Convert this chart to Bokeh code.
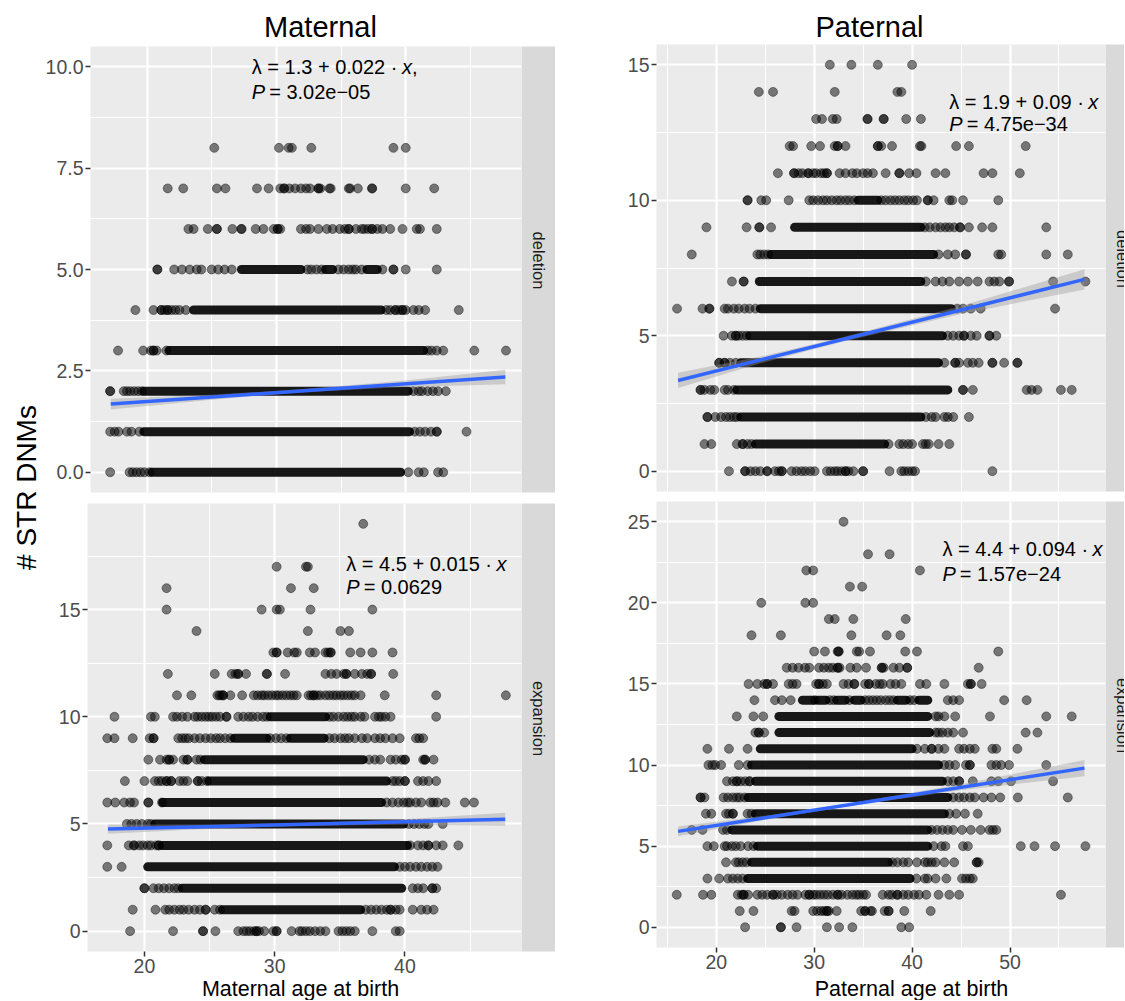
import math
from bokeh.plotting import figure
from bokeh.layouts import row, column
from bokeh.models import Range1d, FixedTicker
from bokeh.core.properties import value
from bokeh.embed import file_html
from bokeh.resources import INLINE

FONT = "Liberation Sans"

# ---------------- data ----------------
# Maternal / deletion : {count: [ages of individual points]}, dense runs {count: [(from, to)]}
mat_del_rows = {
    8: [25.2, 30.2, 30.95, 31.2, 32.7, 39.05, 40.0],
    7: [21.6, 22.8, 25.4, 26.06, 28.5, 29.4, 30.3, 30.6, 30.6, 31.0, 31.45, 31.9, 32.3, 32.6, 33.25, 33.25,
        33.4, 34.1, 34.2, 35.6, 35.7, 36.3, 37.4, 37.4, 40.0, 42.2],
    6: [23.2, 23.6, 24.7, 25.4, 25.4, 26.6, 27.3, 27.3, 28.4, 29.0, 29.8, 30.1, 30.1, 30.3, 31.9, 32.3, 32.6,
        33.25, 33.9, 34.35, 34.9, 35.3, 35.6, 35.6, 36.15, 36.6, 36.8, 37.1, 37.4, 37.4, 37.8, 38.2, 38.8,
        39.75, 40.85, 41.1, 42.4],
    5: [20.8, 20.8, 22.1, 22.7, 23.3, 23.85, 24.2, 25.0, 25.5, 26.0, 26.55, 32.4, 32.7, 33.1, 33.5, 34.8,
        35.2, 35.6, 35.9, 36.15, 36.6, 38.2, 39.05, 39.05, 40.0, 42.4],
    4: [19.1, 20.5, 21.1, 21.1, 21.35, 21.6, 21.6, 21.9, 22.2, 22.5, 23.0, 38.5, 38.8, 39.2, 39.2, 39.5,
        39.75, 39.75, 40.0, 40.6, 41.0, 41.5, 44.1],
    3: [17.76, 19.7, 20.3, 20.5, 20.5, 20.75, 21.5, 41.7, 42.0, 42.4, 42.9, 45.3, 47.75],
    2: [17.15, 17.15, 18.2, 18.45, 18.7, 19.0, 19.3, 19.6, 40.6, 41.0, 41.25, 41.7, 42.1, 42.5, 43.1],
    1: [17.15, 17.5, 17.8, 18.45, 18.8, 19.4, 40.7, 41.1, 41.5, 41.95, 42.4, 42.4, 44.7],
    0: [17.15, 18.65, 18.9, 19.2, 19.5, 19.8, 20.2, 40.2, 41.0, 41.4, 42.5, 42.9],
}
mat_del_dense = {
    5: [(27.3, 31.9), (33.8, 34.35), (37.0, 37.8)],
    4: [(23.6, 38.1)],
    3: [(21.7, 41.4)],
    2: [(19.75, 40.2)],
    1: [(19.75, 40.3)],
    0: [(20.4, 39.6)],
}

# Maternal / expansion
mat_exp_rows = {
    19: [36.8],
    17: [30.15, 32.4, 32.55],
    16: [21.7, 31.25, 33.0],
    15: [21.7, 29.0, 30.15, 30.4, 32.75, 37.5],
    14: [24.0, 32.55, 35.05, 35.7],
    13: [29.9, 30.15, 30.15, 31.0, 31.5, 31.7, 32.7, 33.1, 33.9, 34.1, 34.3, 34.3, 35.8, 36.6, 37.5, 39.05],
    12: [21.8, 25.4, 26.7, 27.0, 27.2, 27.2, 27.8, 29.4, 29.4, 30.8, 33.9, 34.35, 34.75, 35.3, 35.5, 35.5,
         36.15, 36.7, 37.1, 37.4, 37.4, 39.1],
    11: [22.5, 23.6, 25.6, 25.75, 25.9, 26.05, 26.05, 26.6, 27.5, 28.4, 28.7, 29.0, 29.2, 29.5, 29.8, 30.1,
         30.3, 30.6, 30.9, 31.2, 31.45, 31.7, 32.6, 32.8, 33.0, 33.0, 33.25, 33.5, 33.9, 34.2, 34.5, 34.75,
         35.05, 35.3, 35.6, 35.9, 36.15, 36.6, 38.45, 42.4, 47.75],
    10: [17.7, 20.5, 20.8, 22.2, 22.5, 22.9, 23.3, 23.85, 24.1, 24.4, 24.7, 24.95, 25.2, 25.5, 25.8, 26.3,
         26.3, 27.2, 27.6, 28.0, 28.3, 28.7, 29.1, 29.4, 34.2, 34.5, 34.9, 35.3, 35.6, 35.9, 36.15, 36.6,
         36.9, 37.7, 38.0, 38.2, 38.5, 38.9, 42.4],
    9: [17.15, 17.7, 19.1, 20.4, 20.7, 20.7, 22.6, 22.9, 23.15, 23.4, 23.85, 24.26, 24.7, 25.1, 25.5, 25.8,
        26.2, 26.6, 29.65, 30.1, 30.5, 30.9, 34.2, 34.6, 35.05, 35.4, 35.7, 36.15, 36.7, 37.1, 37.7, 38.1,
        38.5, 39.05, 39.6, 40.85, 41.1, 41.4],
    8: [20.3, 21.2, 21.7, 21.9, 21.9, 22.2, 23.0, 23.3, 23.3, 24.0, 24.3, 37.25, 37.7, 38.1, 38.9, 39.3,
        39.75, 40.0, 40.0, 41.4, 41.55, 41.55, 42.2],
    7: [18.5, 20.0, 20.8, 21.1, 21.35, 21.7, 21.7, 22.05, 22.05, 22.7, 23.0, 23.3, 24.1, 24.1, 24.4, 24.8,
        39.05, 39.3, 39.6, 40.0, 40.0, 41.0, 41.4, 41.8, 42.4],
    6: [17.15, 17.76, 18.45, 18.9, 19.2, 20.3, 20.3, 21.35, 38.6, 39.05, 39.5, 39.9, 40.2, 40.4, 40.85,
        41.25, 41.95, 42.2, 42.5, 43.1, 44.6, 45.3],
    5: [18.65, 19.0, 19.4, 19.8, 20.25, 20.5, 40.3, 40.7, 41.1, 41.5, 41.8, 42.9],
    4: [17.15, 18.8, 19.2, 19.2, 19.6, 19.9, 20.25, 20.5, 20.9, 21.1, 21.1, 40.4, 41.0, 41.4, 41.8, 41.8,
        42.4, 42.9, 44.1],
    3: [17.15, 18.25, 39.6, 40.0, 40.4, 40.85, 41.25, 41.7, 42.1, 42.5],
    2: [20.0, 20.0, 20.7, 21.1, 21.5, 21.9, 22.3, 22.6, 40.6, 41.0, 41.4, 42.1, 42.1, 42.4],
    1: [19.1, 20.85, 21.6, 21.9, 22.3, 22.7, 23.0, 23.4, 23.85, 24.26, 24.7, 24.7, 25.4, 25.8, 37.0, 37.4,
        37.8, 38.2, 38.6, 38.9, 38.9, 39.3, 39.6, 40.6, 41.25, 41.7, 42.2],
    0: [18.9, 22.2, 24.5, 24.5, 25.45, 27.2, 27.6, 27.85, 28.1, 28.4, 28.6, 28.6, 28.8, 29.2, 29.9, 30.15,
        30.15, 31.3, 31.9, 32.1, 32.4, 32.7, 33.1, 33.5, 33.9, 34.9, 35.2, 35.5, 35.8, 36.15, 37.5, 39.3, 39.6],
}
mat_exp_dense = {
    10: [(29.65, 33.9)],
    9: [(26.9, 29.4), (31.2, 33.8)],
    8: [(24.6, 36.8)],
    7: [(24.95, 38.6)],
    6: [(21.4, 38.2)],
    5: [(20.8, 39.9)],
    4: [(21.35, 40.2)],
    3: [(20.25, 39.2)],
    2: [(22.9, 39.75)],
    1: [(26.0, 36.6)],
}

# Paternal / deletion
pat_del_rows = {
    15: [31.6, 33.8, 36.5, 40.0],
    14: [24.35, 25.8, 32.1, 38.5, 38.9],
    13: [30.2, 30.8, 31.9, 32.3, 35.45, 35.45, 37.1, 37.1, 39.4, 40.9],
    12: [27.5, 27.85, 29.7, 30.6, 32.1, 32.4, 32.4, 33.2, 36.5, 36.5, 36.85, 37.95, 40.8, 40.95, 44.5, 45.8, 51.6],
    11: [26.3, 27.95, 27.95, 28.4, 28.8, 29.4, 29.4, 29.9, 30.2, 30.7, 31.0, 31.3, 31.3, 32.6, 33.2, 33.9,
         34.35, 35.0, 35.45, 36.0, 37.3, 38.7, 38.7, 39.7, 40.45, 42.4, 43.4, 47.3, 48.2, 51.0],
    10: [23.2, 23.2, 24.6, 25.1, 27.4, 29.5, 29.9, 30.4, 30.9, 31.3, 31.8, 32.3, 32.7, 33.2, 33.6, 34.1,
         36.85, 37.3, 37.8, 38.25, 38.7, 39.2, 39.6, 40.1, 40.5, 41.6, 41.6, 42.2, 43.8, 44.1, 45.2, 48.8],
    9: [19.0, 23.1, 24.4, 24.4, 25.6, 41.3, 41.8, 42.4, 42.9, 43.4, 43.8, 44.3, 44.9, 44.9, 45.8, 47.15, 48.2, 53.7],
    8: [17.5, 24.2, 24.5, 24.9, 25.3, 42.7, 43.65, 44.4, 45.5, 45.5, 48.8, 49.1, 53.7, 55.9],
    7: [21.6, 22.8, 22.8, 41.4, 42.4, 43.1, 43.8, 44.8, 45.7, 46.7, 47.9, 48.4, 48.9, 49.9, 49.9, 54.4, 57.7],
    6: [16.0, 18.6, 19.3, 19.3, 20.86, 21.2, 21.8, 22.3, 22.9, 23.4, 24.0, 44.6, 45.2, 46.0, 47.0, 54.6],
    5: [20.75, 21.6, 22.0, 22.0, 22.3, 22.7, 23.1, 43.65, 44.2, 44.8, 45.3, 45.3, 46.0, 46.6, 47.9, 47.9, 48.6],
    4: [20.3, 20.3, 20.86, 20.86, 21.4, 22.0, 43.3, 44.4, 44.4, 44.8, 45.7, 46.2, 46.8, 48.2, 48.2, 49.4,
        50.75, 50.75],
    3: [18.4, 18.4, 18.8, 19.4, 19.8, 20.86, 21.2, 21.8, 45.2, 45.2, 46.2, 51.7, 52.2, 52.8, 55.2, 56.3],
    2: [19.1, 19.1, 19.9, 20.5, 21.0, 21.4, 21.8, 22.1, 41.4, 42.0, 42.4, 43.3, 43.65, 44.2, 45.8],
    1: [18.8, 19.5, 22.1, 22.7, 22.7, 23.2, 23.6, 37.6, 38.7, 39.1, 39.6, 40.0, 41.1, 41.4, 41.7, 42.7, 43.8],
    0: [21.3, 22.95, 22.95, 23.5, 24.0, 24.5, 25.2, 25.2, 26.0, 26.4, 26.7, 26.7, 27.7, 28.2, 28.7, 29.1,
        29.6, 30.05, 31.3, 31.7, 32.1, 32.4, 32.8, 33.2, 33.2, 33.5, 34.0, 35.0, 35.0, 37.7, 38.9, 39.2,
        39.6, 40.0, 40.3, 48.2],
}
pat_del_dense = {
    10: [(34.5, 36.5)],
    9: [(28.0, 40.9)],
    8: [(25.6, 42.2)],
    7: [(24.4, 40.9)],
    6: [(24.5, 44.0)],
    5: [(23.4, 43.1)],
    4: [(22.5, 42.7)],
    3: [(22.1, 43.65)],
    2: [(22.5, 40.9)],
    1: [(24.0, 37.2)],
}

# Paternal / expansion
pat_exp_rows = {
    25: [33.0],
    23: [35.5, 37.7],
    22: [29.2, 29.9, 40.8],
    21: [33.65, 34.9],
    20: [24.6, 29.1, 29.9],
    19: [31.5, 32.1, 34.0, 39.35],
    18: [23.6, 26.6, 33.8, 37.4, 38.8],
    17: [30.0, 31.1, 32.4, 32.5, 32.5, 34.35, 34.6, 35.7, 39.3, 40.5, 48.8],
    16: [27.2, 27.8, 28.4, 29.06, 29.5, 30.5, 31.0, 31.5, 31.9, 32.4, 32.4, 32.6, 33.7, 34.35, 35.3, 36.9,
         36.9, 37.1, 38.1, 38.7, 39.5, 39.5, 46.8],
    15: [23.3, 24.2, 24.9, 25.2, 25.2, 25.8, 27.4, 27.8, 28.2, 30.2, 30.5, 30.5, 30.9, 31.3, 33.0, 33.5,
         34.1, 34.1, 35.2, 35.6, 35.6, 36.3, 36.7, 37.0, 37.8, 38.3, 38.9, 40.8, 41.45, 43.3, 45.7, 46.0,
         46.0, 47.1],
    14: [23.9, 26.0, 26.7, 27.6, 30.1, 31.6, 32.0, 33.6, 35.2, 35.6, 36.0, 36.4, 36.8, 37.3, 37.7, 38.1,
         39.8, 40.2, 43.65, 44.2, 44.8, 49.4, 51.7],
    13: [22.1, 23.8, 24.8, 42.4, 42.7, 43.3, 44.4, 47.95, 53.7, 56.3],
    12: [24.0, 24.35, 24.35, 24.9, 42.4, 42.7, 43.1, 43.65, 44.2, 45.2, 51.6, 52.8],
    11: [19.1, 21.3, 23.2, 40.5, 41.3, 42.0, 42.0, 42.7, 43.3, 44.8, 45.3, 45.9, 46.4, 48.2, 48.6, 50.75],
    10: [19.2, 19.6, 19.9, 20.5, 22.3, 23.2, 43.3, 43.8, 44.4, 45.5, 45.9, 45.9, 48.1, 48.6, 49.1, 49.9, 53.7],
    9: [21.1, 21.7, 22.1, 22.1, 22.5, 22.95, 23.4, 23.4, 43.65, 44.2, 44.8, 44.8, 46.2, 48.1, 48.8, 50.1, 54.4],
    8: [18.4, 18.4, 18.8, 20.75, 21.2, 21.7, 22.1, 22.4, 22.9, 44.2, 44.8, 45.3, 45.9, 46.4, 47.3, 48.1,
        49.0, 50.8, 55.9],
    7: [18.95, 19.5, 21.0, 21.3, 21.7, 21.7, 23.2, 23.6, 43.8, 44.5, 45.4, 46.7],
    6: [17.5, 18.6, 20.7, 21.1, 42.0, 42.55, 43.1, 43.65, 44.2, 45.1, 46.0, 47.0, 47.9, 48.25, 48.6],
    5: [19.1, 19.75, 20.86, 21.1, 21.6, 22.0, 22.5, 23.25, 23.8, 42.2, 43.0, 43.4, 45.2, 45.7, 51.1, 52.5,
        54.6, 57.7],
    4: [21.0, 22.0, 22.3, 22.7, 23.1, 38.0, 38.5, 39.1, 39.6, 40.5, 41.3, 41.6, 42.0, 42.4, 43.3, 44.3,
        46.6, 46.6, 46.8],
    3: [19.1, 20.3, 21.2, 21.7, 22.2, 22.7, 40.45, 41.3, 41.6, 42.4, 43.5, 45.1, 45.5, 45.9, 46.2],
    2: [15.97, 18.65, 19.5, 22.2, 22.6, 22.8, 22.8, 23.25, 24.2, 24.7, 25.2, 25.8, 25.8, 26.2, 26.7, 27.3,
        27.8, 28.3, 29.1, 29.5, 29.5, 29.9, 30.2, 30.6, 31.0, 31.4, 31.9, 32.4, 32.4, 32.8, 33.4, 33.9,
        34.3, 34.6, 35.0, 35.3, 37.0, 37.6, 37.95, 38.5, 38.5, 39.1, 39.6, 40.2, 40.7, 41.45, 42.7, 43.8,
        44.8, 55.2],
    1: [22.4, 23.8, 27.7, 28.0, 29.9, 30.3, 30.7, 31.0, 31.3, 31.3, 31.5, 32.3, 34.8, 35.2, 35.2, 35.75,
        35.9, 37.2, 37.6, 37.6, 39.2, 41.9],
    0: [22.95, 26.6, 26.6, 28.2, 31.3, 32.55, 33.9, 38.9, 39.7],
}
pat_exp_dense = {
    14: [(28.8, 29.9), (30.4, 31.2), (32.3, 33.2), (34.1, 34.8), (38.5, 39.4), (40.7, 41.6)],
    13: [(26.4, 41.6)],
    12: [(26.4, 41.8)],
    11: [(24.5, 40.0)],
    10: [(23.6, 42.7)],
    9: [(24.0, 43.1)],
    8: [(23.25, 43.65)],
    7: [(24.0, 43.3)],
    6: [(21.6, 41.6)],
    5: [(24.2, 41.6)],
    4: [(23.6, 37.6)],
    3: [(23.2, 39.8)],
}

# fitted lines (end points) and confidence bands
mat_del_fit_x = [17.2, 47.7]
mat_del_fit_y = [1.68, 2.35]
mat_del_band_x = [17.2, 25, 32, 40, 47.7]
mat_del_band_lo = [1.55, 1.79, 1.97, 2.10, 2.17]
mat_del_band_hi = [1.81, 1.91, 2.05, 2.26, 2.53]

mat_exp_fit_x = [17.2, 47.7]
mat_exp_fit_y = [4.76, 5.22]
mat_exp_band_x = [17.2, 25, 32, 40, 47.7]
mat_exp_band_lo = [4.54, 4.78, 4.91, 4.98, 4.92]
mat_exp_band_hi = [4.98, 4.98, 5.05, 5.22, 5.52]

pat_del_fit_x = [16.1, 57.6]
pat_del_fit_y = [3.35, 7.08]
pat_del_band_x = [16.1, 25, 33, 45, 57.6]
pat_del_band_lo = [3.07, 4.03, 4.79, 5.80, 6.71]
pat_del_band_hi = [3.63, 4.27, 4.95, 6.10, 7.45]

pat_exp_fit_x = [16.1, 57.6]
pat_exp_fit_y = [5.91, 9.81]
pat_exp_band_x = [16.1, 25, 33, 45, 57.6]
pat_exp_band_lo = [5.61, 6.62, 7.41, 8.45, 9.31]
pat_exp_band_hi = [6.21, 6.88, 7.59, 8.81, 10.31]

# axes
mat_x_ticks = [20, 30, 40]
mat_x_minor = [25, 35, 45]
pat_x_ticks = [20, 30, 40, 50]
pat_x_minor = [15, 25, 35, 45, 55]
mat_del_y_ticks = [0, 2.5, 5, 7.5, 10]
mat_del_y_labels = ["0.0", "2.5", "5.0", "7.5", "10.0"]
mat_del_y_minor = [1.25, 3.75, 6.25, 8.75]
mat_exp_y_ticks = [0, 5, 10, 15]
mat_exp_y_labels = ["0", "5", "10", "15"]
mat_exp_y_minor = [2.5, 7.5, 12.5, 17.5]
pat_del_y_ticks = [0, 5, 10, 15]
pat_del_y_labels = ["0", "5", "10", "15"]
pat_del_y_minor = [2.5, 7.5, 12.5]
pat_exp_y_ticks = [0, 5, 10, 15, 20, 25]
pat_exp_y_labels = ["0", "5", "10", "15", "20", "25"]
pat_exp_y_minor = [2.5, 7.5, 12.5, 17.5, 22.5]

# annotation texts
mat_del_eq = ("λ = 1.3 + 0.022 · ", "x", ",")
mat_del_p = ("P", " = 3.02e−05")
mat_exp_eq = ("λ = 4.5 + 0.015 · ", "x", "")
mat_exp_p = ("P", " = 0.0629")
pat_del_eq = ("λ = 1.9 + 0.09 · ", "x", "")
pat_del_p = ("P", " = 4.75e−34")
pat_exp_eq = ("λ = 4.4 + 0.094 · ", "x", "")
pat_exp_p = ("P", " = 1.57e−24")

# ---------------- helpers ----------------
CW = {" ": 0.278, "=": 0.584, "+": 0.584, ".": 0.278, "·": 0.278, "λ": 0.5, "e": 0.556, "−": 0.584,
      "P": 0.667, "x": 0.5, ",": 0.278}


def tw(s, size):
    return sum(CW.get(c, 0.556) for c in s) * size


def base_fig(w, h, xr, yr, **kw):
    p = figure(width=w, height=h, x_range=xr, y_range=yr, output_backend="svg",
               toolbar_location=None, title=None, **kw)
    p.outline_line_color = None
    p.border_fill_color = "white"
    return p


def text_fig(w, h, items):
    p = base_fig(w, h, Range1d(0, w), Range1d(h, 0), x_axis_location=None, y_axis_location=None,
                 min_border_left=0, min_border_right=0, min_border_top=0, min_border_bottom=0)
    p.grid.visible = False
    p.background_fill_color = "white"
    for it in items:
        p.text(x=[it["x"]], y=[it["y"]], text=[it["text"]], text_font=value(FONT),
               text_font_size=it["size"], text_color=it.get("color", "black"),
               text_align="center", text_baseline="middle", angle=it.get("angle", 0))
    return p


def strip_fig(w, frame_h, border_bottom, label):
    p = base_fig(w, frame_h + border_bottom, Range1d(0, w), Range1d(0, frame_h),
                 x_axis_location=None, y_axis_location=None,
                 min_border_left=0, min_border_right=0, min_border_top=0,
                 min_border_bottom=border_bottom)
    p.grid.visible = False
    p.background_fill_color = "#D9D9D9"
    p.text(x=[17], y=[frame_h / 2 + 9], text=[label], text_font=value(FONT), text_font_size="16.5px",
           text_color="#1A1A1A", text_align="center", text_baseline="middle", angle=-math.pi / 2)
    return p


def panel(xr, yr, frame_w, frame_h, border_left, border_bottom, show_x,
          xticks, xminor, yticks, ylabels, yminor,
          rows, dense, fit_x, fit_y, band_x, band_lo, band_hi,
          ann_x, ann_y1, ann_y2, eq, pv):
    p = base_fig(border_left + frame_w, frame_h + border_bottom, Range1d(*xr), Range1d(*yr),
                 x_axis_location="below" if show_x else None,
                 min_border_left=border_left, min_border_right=0, min_border_top=0,
                 min_border_bottom=border_bottom)
    p.background_fill_color = "#EBEBEB"
    p.xgrid.ticker = FixedTicker(ticks=xticks, minor_ticks=xminor)
    p.ygrid.ticker = FixedTicker(ticks=yticks, minor_ticks=yminor)
    p.grid.grid_line_color = "white"
    p.grid.grid_line_width = 2.2
    p.grid.minor_grid_line_color = "white"
    p.grid.minor_grid_line_width = 1.1

    axes = list(p.yaxis) + (list(p.xaxis) if show_x else [])
    for ax in axes:
        ax.axis_line_color = None
        ax.major_tick_line_color = "#333333"
        ax.major_tick_line_width = 1.5
        ax.major_tick_in = 0
        ax.major_tick_out = 5
        ax.minor_tick_line_color = None
        ax.major_label_text_font = FONT
        ax.major_label_text_font_size = "19.5px"
        ax.major_label_text_color = "#4D4D4D"
        ax.major_label_standoff = 2
    p.yaxis.ticker = FixedTicker(ticks=yticks)
    p.yaxis.major_label_overrides = {t: l for t, l in zip(yticks, ylabels)}
    if show_x:
        p.xaxis.ticker = FixedTicker(ticks=xticks)
        p.xaxis.major_label_overrides = {t: str(t) for t in xticks}

    # points
    xs, ys = [], []
    for y, ages in rows.items():
        xs += ages
        ys += [y] * len(ages)
    x0, x1, yy = [], [], []
    for y, segs in dense.items():
        for a, b in segs:
            x0.append(a)
            x1.append(b)
            yy.append(y)
    p.segment(x0=x0, y0=yy, x1=x1, y1=yy, line_width=9, line_cap="round",
              line_color="black", line_alpha=0.9)
    p.scatter(x=xs, y=ys, size=9, marker="circle", fill_color="black", fill_alpha=0.5,
              line_color="black", line_alpha=0.5, line_width=0.8)

    # smooth
    p.varea(x=band_x, y1=band_lo, y2=band_hi, fill_color="#999999", fill_alpha=0.4)
    p.line(x=fit_x, y=fit_y, line_color="#3366FF", line_width=3.5)

    # annotation
    fs = 20
    size = f"{fs}px"
    off_x = tw(eq[0], fs)
    kw = dict(text_font=value(FONT), text_font_size=size, text_align="left", text_baseline="middle")
    p.text(x=[ann_x], y=[ann_y1], text=[eq[0]], **kw)
    p.text(x=[ann_x], y=[ann_y1], text=[eq[1]], text_font_style="italic", x_offset=off_x, **kw)
    if eq[2]:
        p.text(x=[ann_x], y=[ann_y1], text=[eq[2]], x_offset=off_x + tw("x", fs), **kw)
    p.text(x=[ann_x], y=[ann_y2], text=[pv[0]], text_font_style="italic", **kw)
    p.text(x=[ann_x], y=[ann_y2], text=[pv[1]], x_offset=tw("P", fs) + 4, **kw)
    return p


# ---------------- build ----------------
MAT_X = (15.63, 48.95)
PAT_X = (13.9, 59.75)

pTL = panel(MAT_X, (-0.5, 10.5), 434, 446, 45, 11, False,
            mat_x_ticks, mat_x_minor, mat_del_y_ticks, mat_del_y_labels, mat_del_y_minor,
            mat_del_rows, mat_del_dense, mat_del_fit_x, mat_del_fit_y,
            mat_del_band_x, mat_del_band_lo, mat_del_band_hi, 28.1, 10.0, 9.39, mat_del_eq, mat_del_p)
pBL = panel(MAT_X, (-0.95, 19.95), 434, 448, 45, 24, True,
            mat_x_ticks, mat_x_minor, mat_exp_y_ticks, mat_exp_y_labels, mat_exp_y_minor,
            mat_exp_rows, mat_exp_dense, mat_exp_fit_x, mat_exp_fit_y,
            mat_exp_band_x, mat_exp_band_lo, mat_exp_band_hi, 35.5, 17.11, 16.04, mat_exp_eq, mat_exp_p)
pTR = panel(PAT_X, (-0.75, 15.75), 449, 447, 101, 10, False,
            pat_x_ticks, pat_x_minor, pat_del_y_ticks, pat_del_y_labels, pat_del_y_minor,
            pat_del_rows, pat_del_dense, pat_del_fit_x, pat_del_fit_y,
            pat_del_band_x, pat_del_band_lo, pat_del_band_hi, 43.8, 13.61, 12.81, pat_del_eq, pat_del_p)
pBR = panel(PAT_X, (-1.25, 26.25), 449, 446, 101, 24, True,
            pat_x_ticks, pat_x_minor, pat_exp_y_ticks, pat_exp_y_labels, pat_exp_y_minor,
            pat_exp_rows, pat_exp_dense, pat_exp_fit_x, pat_exp_fit_y,
            pat_exp_band_x, pat_exp_band_lo, pat_exp_band_hi, 43.1, 23.31, 21.77, pat_exp_eq, pat_exp_p)

sTL = strip_fig(34, 446, 11, "deletion")
sBL = strip_fig(34, 448, 24, "expansion")
sTR = strip_fig(19, 447, 10, "deletion")
sBR = strip_fig(19, 446, 24, "expansion")

titleL = text_fig(513, 46, [dict(x=278, y=26.9, text="Maternal", size="29px")])
titleR = text_fig(569, 44, [dict(x=314, y=26.9, text="Paternal", size="29px")])
xlabL = text_fig(513, 25, [dict(x=258, y=13.6, text="Maternal age at birth", size="21.5px")])
xlabR = text_fig(569, 29, [dict(x=356, y=17.6, text="Paternal age at birth", size="21.5px")])
ylab = text_fig(42, 1000, [dict(x=25.5, y=487, text="# STR DNMs", size="28px", angle=math.pi / 2)])

left_col = column(titleL, row(pTL, sTL, spacing=0), row(pBL, sBL, spacing=0), xlabL, spacing=0)
right_col = column(titleR, row(pTR, sTR, spacing=0), row(pBR, sBR, spacing=0), xlabR, spacing=0)
layout = row(ylab, left_col, right_col, spacing=0)

open("out.html", "w").write(file_html(layout, INLINE))
